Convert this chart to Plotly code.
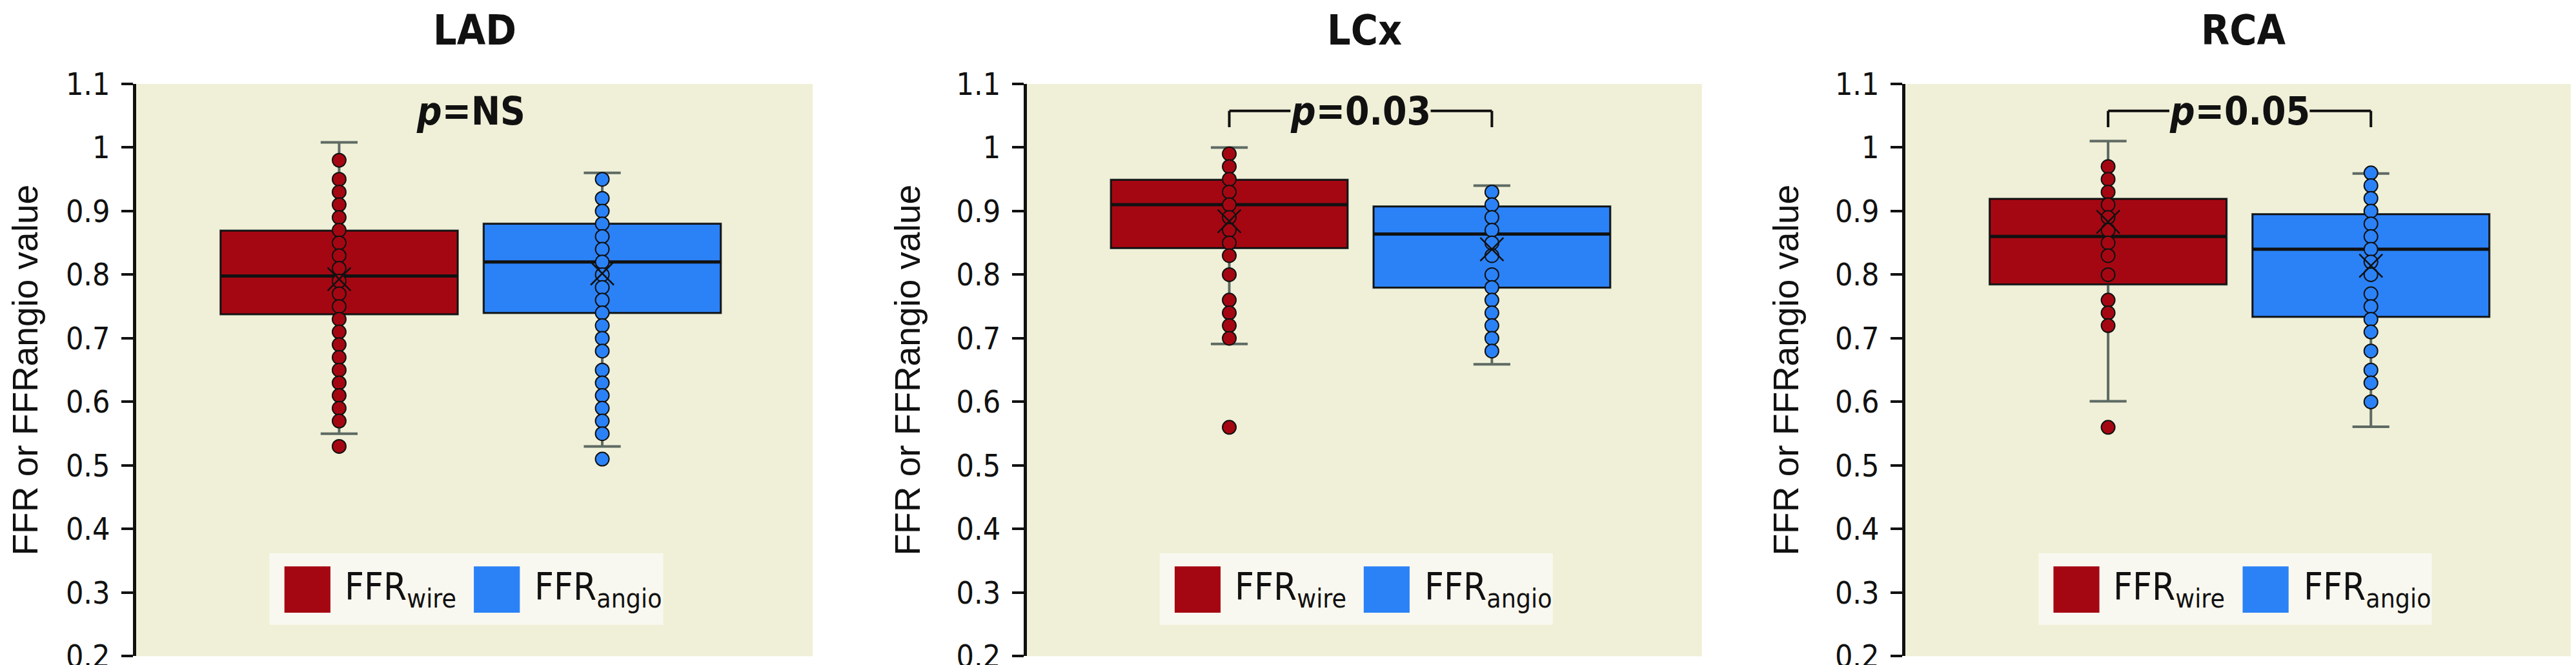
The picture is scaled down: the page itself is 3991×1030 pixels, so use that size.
import plotly.graph_objects as go
from plotly.subplots import make_subplots

# ── colours / fonts ──
INK       = "#111111"
RED       = "#A50712"
BLUE      = "#2B82F7"
WHISKER   = "#5E6A63"
PLOT_BG   = "#F0F0D8"
LEGEND_BG = "#F9F8F0"
NARROW    = "DejaVu Sans Condensed, Liberation Sans Narrow, sans-serif"
SANS      = "Liberation Sans, Arial, sans-serif"

# ── data ──
PANELS = ["LAD", "LCx", "RCA"]
GROUPS = ["wire", "angio"]
P_TEXT = ["<i>p</i>=NS", "<i>p</i>=0.03", "<i>p</i>=0.05"]
BRACKET = [False, True, True]

# box statistics per panel: [wire, angio]
Q1     = [[0.738, 0.740], [0.842, 0.780], [0.785, 0.734]]
MEDIAN = [[0.798, 0.820], [0.910, 0.864], [0.860, 0.840]]
Q3     = [[0.869, 0.880], [0.949, 0.907], [0.919, 0.895]]
LOWER  = [[0.550, 0.530], [0.691, 0.659], [0.601, 0.561]]
UPPER  = [[1.008, 0.960], [1.000, 0.940], [1.010, 0.959]]
MEAN   = [[0.793, 0.802], [0.884, 0.840], [0.883, 0.814]]

lad_wire  = [0.98, 0.95, 0.93, 0.91, 0.89, 0.87, 0.85, 0.83, 0.81, 0.79, 0.77,
             0.75, 0.73, 0.71, 0.69, 0.67, 0.65, 0.63, 0.61, 0.59, 0.57, 0.53]
lad_angio = [0.95, 0.92, 0.90, 0.88, 0.86, 0.84, 0.82, 0.80, 0.78, 0.76, 0.74,
             0.72, 0.70, 0.68, 0.65, 0.63, 0.61, 0.59, 0.57, 0.55, 0.51]
lcx_wire  = [0.99, 0.97, 0.95, 0.93, 0.91, 0.89, 0.87, 0.85, 0.83, 0.80, 0.76,
             0.74, 0.72, 0.70, 0.56]
lcx_angio = [0.93, 0.91, 0.89, 0.87, 0.85, 0.83, 0.80, 0.78, 0.76, 0.74, 0.72,
             0.70, 0.68]
rca_wire  = [0.97, 0.95, 0.93, 0.91, 0.89, 0.87, 0.85, 0.83, 0.80, 0.76, 0.74,
             0.72, 0.56]
rca_angio = [0.96, 0.94, 0.92, 0.90, 0.88, 0.86, 0.84, 0.82, 0.80, 0.77, 0.75,
             0.73, 0.71, 0.68, 0.65, 0.63, 0.60]
POINTS = [[lad_wire, lad_angio], [lcx_wire, lcx_angio], [rca_wire, rca_angio]]

Y_TICKS = [0.2, 0.3, 0.4, 0.5, 0.6, 0.7, 0.8, 0.9, 1.0, 1.1]
Y_TICKTEXT = ["0.2", "0.3", "0.4", "0.5", "0.6", "0.7", "0.8", "0.9", "1", "1.1"]
LEGEND_TEXT = ["FFR<sub>wire</sub>", "FFR<sub>angio</sub>"]

COLORS = [RED, BLUE]
X_DOMAINS = [[0.0509, 0.3135], [0.3966, 0.6587], [0.7377, 1.0]]
Y_DOMAIN = [0.0209, 0.8816]

fig = make_subplots(rows=1, cols=3)

for i, name in enumerate(PANELS):
    col = i + 1
    for g in range(2):
        cat = [GROUPS[g]]
        # whiskers (grey) + box body underneath
        fig.add_trace(go.Box(
            x=cat, q1=[Q1[i][g]], median=[MEDIAN[i][g]], q3=[Q3[i][g]],
            lowerfence=[LOWER[i][g]], upperfence=[UPPER[i][g]],
            width=0.9, whiskerwidth=0.156, fillcolor=COLORS[g],
            line=dict(color=WHISKER, width=4), boxpoints=False, hoverinfo="skip",
        ), row=1, col=col)
        # box with black outline, no whiskers
        fig.add_trace(go.Box(
            x=cat, q1=[Q1[i][g]], median=[MEDIAN[i][g]], q3=[Q3[i][g]],
            lowerfence=[Q1[i][g]], upperfence=[Q3[i][g]],
            width=0.9, whiskerwidth=0, fillcolor=COLORS[g],
            line=dict(color=INK, width=2.5), boxpoints=False, hoverinfo="skip",
        ), row=1, col=col)
        # thicker median bar
        m = [MEDIAN[i][g]]
        fig.add_trace(go.Box(
            x=cat, q1=m, median=m, q3=m, lowerfence=m, upperfence=m,
            width=0.9, whiskerwidth=0, fillcolor="rgba(0,0,0,0)",
            line=dict(color=INK, width=5), boxpoints=False, hoverinfo="skip",
        ), row=1, col=col)
        # individual values
        vals = POINTS[i][g]
        fig.add_trace(go.Scatter(
            x=cat * len(vals), y=vals, mode="markers",
            marker=dict(size=21, color=COLORS[g], line=dict(color=INK, width=2)),
            hovertemplate="%{y:.2f}<extra></extra>",
        ), row=1, col=col)
        # mean marker
        fig.add_trace(go.Scatter(
            x=cat, y=[MEAN[i][g]], mode="markers",
            marker=dict(symbol="x-thin", size=36, color=INK, line=dict(color=INK, width=2.5)),
            hovertemplate="mean %{y:.3f}<extra></extra>",
        ), row=1, col=col)

    fig.update_xaxes(
        domain=X_DOMAINS[i], type="category", categoryorder="array", categoryarray=GROUPS,
        range=[-0.771, 1.8], showticklabels=False, ticks="", showline=False,
        showgrid=False, zeroline=False, row=1, col=col,
    )
    fig.update_yaxes(
        domain=Y_DOMAIN, range=[0.2, 1.1], tickvals=Y_TICKS, ticktext=Y_TICKTEXT,
        ticks="outside", ticklen=18, tickwidth=4, tickcolor=INK,
        showline=True, linewidth=5, linecolor=INK, showgrid=False, zeroline=False,
        tickfont=dict(family=NARROW, size=48, color=INK), ticklabelstandoff=8,
        ticklabeloverflow="allow",
        title=dict(text="FFR or FFRangio value", standoff=40,
                   font=dict(family=SANS, size=55, color=INK)),
        row=1, col=col,
    )

    xr = "x" if i == 0 else f"x{col}"
    yr = "y" if i == 0 else f"y{col}"

    # panel title
    fig.add_annotation(
        text=f"<b>{name}</b>", xref=f"{xr} domain", yref="paper", x=0.5, y=1.0,
        xanchor="center", yanchor="top", showarrow=False,
        font=dict(family=NARROW, size=64, color=INK),
    )
    # p value
    fig.add_annotation(
        text=f"<b>{P_TEXT[i]}</b>", xref=xr, yref=yr, x=0.5, y=1.0575,
        xanchor="center", yanchor="middle", showarrow=False,
        font=dict(family=NARROW, size=60, color=INK),
    )
    if BRACKET[i]:
        ytop, ylow = 1.0575, 1.032
        for x0, y0, x1, y1 in [(0, ylow, 0, ytop), (0, ytop, 0.233, ytop),
                               (0.767, ytop, 1, ytop), (1, ytop, 1, ylow)]:
            fig.add_shape(type="line", xref=xr, yref=yr, x0=x0, y0=y0, x1=x1, y1=y1,
                          line=dict(color=INK, width=4))

    # in-plot legend
    xd, yd = f"{xr} domain", f"{yr} domain"
    fig.add_shape(type="rect", xref=xd, yref=yd, x0=0.197, x1=0.779, y0=0.055, y1=0.180,
                  fillcolor=LEGEND_BG, line_width=0)
    for g, (sx, tx) in enumerate([(0.219, 0.306), (0.499, 0.587)]):
        fig.add_shape(type="rect", xref=xd, yref=yd, x0=sx, x1=sx + 0.068, y0=0.076, y1=0.157,
                      fillcolor=COLORS[g], line_width=0)
        fig.add_annotation(
            text=LEGEND_TEXT[g], xref=xd, yref=yd, x=tx, y=0.117,
            xanchor="left", yanchor="middle", showarrow=False,
            font=dict(family=NARROW, size=58, color=INK),
        )

fig.update_layout(
    width=3991, height=1030,
    margin=dict(l=0, r=0, t=0, b=0),
    paper_bgcolor="white", plot_bgcolor=PLOT_BG,
    showlegend=False, boxmode="overlay",
    template="none",
)

fig.write_html("out.html")
